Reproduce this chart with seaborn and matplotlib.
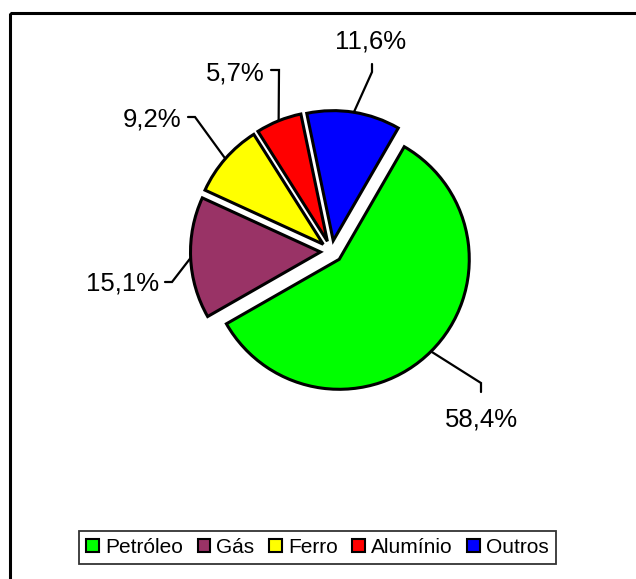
import matplotlib
matplotlib.use("Agg")
import matplotlib.pyplot as plt
import seaborn as sns
import numpy as np
from matplotlib.patches import Patch, Rectangle

# ---- data ----
categories = ["Petróleo", "Gás", "Ferro", "Alumínio", "Outros"]
values = [58.4, 15.1, 9.2, 5.7, 11.6]
labels = ["58,4%", "15,1%", "9,2%", "5,7%", "11,6%"]
colors = ["#00FF00", "#993366", "#FFFF00", "#FF0000", "#0000FF"]

sns.set_theme(style="white")
plt.rcParams["font.family"] = ["Liberation Sans", "DejaVu Sans"]

W, H = 636, 579
fig = plt.figure(figsize=(W / 100, H / 100), dpi=100)
ax = fig.add_axes([0, 0, 1, 1])

def Y(yp):
    return H - yp

cx, cy, R = 331.5, Y(251.5), 130
expl = 11  # data units (pixels)
wedges, _ = ax.pie(values, colors=colors, startangle=60, counterclock=False,
                   center=(cx, cy), radius=R, explode=[expl] * len(values),
                   wedgeprops=dict(edgecolor="black", linewidth=2.2),
                   frame=True)
ax.set_xlim(0, W)
ax.set_ylim(0, H)
ax.set_aspect("equal")
ax.axis("off")

# label layout (pixel coords, style only)
text_pos = [(481, 420), (123, 284), (152, 120), (235, 73), (371, 42)]
elbow = [(481, 383), (172, 282), (195, 117), (279, 70), (372, 72)]
tick_end = [(481, 392), (165, 282), (188, 117), (271, 70), (372, 64)]

for w, lab, tp, el, te in zip(wedges, labels, text_pos, elbow, tick_end):
    th = np.deg2rad((w.theta1 + w.theta2) / 2)
    wx, wy = w.center
    ax_, ay_ = wx + R * np.cos(th), wy + R * np.sin(th)
    ax.plot([ax_, el[0], te[0]], [ay_, Y(el[1]), Y(te[1])], color="black",
            lw=1.6, solid_joinstyle="miter", zorder=3)
    ax.text(tp[0], Y(tp[1]), lab, fontsize=18.5, color="black",
            ha="center", va="center")

# figure border
ax.add_patch(Rectangle((9.5, Y(12.5)), 700, -700, fill=False, edgecolor="black",
                       lw=2.2, clip_on=False, zorder=5))

handles = [Patch(facecolor=c, edgecolor="black", linewidth=1.5) for c in colors]
leg = ax.legend(handles, categories, ncol=5, loc="center",
                bbox_to_anchor=(317.5 / W, 1 - 547.5 / H), fontsize=15,
                frameon=True, fancybox=False, handlelength=0.6, handleheight=0.6,
                handletextpad=0.3, columnspacing=0.7, borderpad=0.35,
                borderaxespad=0)
leg.get_frame().set_edgecolor("black")
leg.get_frame().set_linewidth(1.3)
for t in leg.get_texts():
    t.set_color("black")

fig.savefig("out.png", dpi=100, facecolor="white")
